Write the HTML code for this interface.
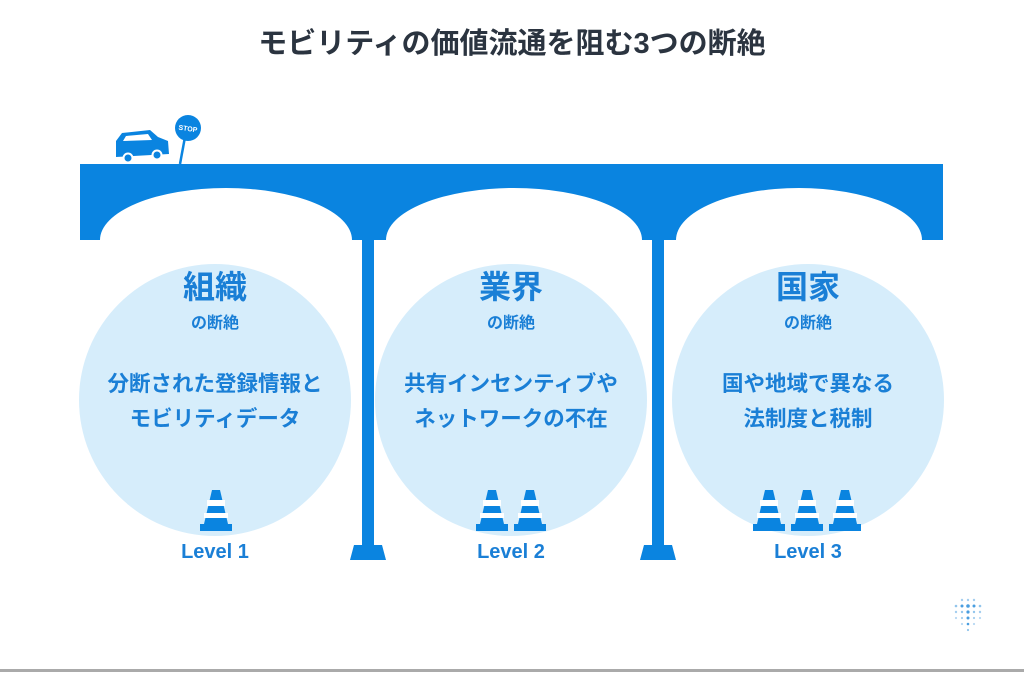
<!DOCTYPE html>
<html><head><meta charset="utf-8"><style>
body{margin:0;background:#fff;width:1024px;height:672px;overflow:hidden}
text{font-family:"Liberation Sans","Noto Sans CJK JP",sans-serif;font-weight:bold}
</style></head><body>
<svg width="1024" height="672" viewBox="0 0 1024 672" xmlns="http://www.w3.org/2000/svg">
<rect width="1024" height="672" fill="#fff"/>
<text x="512" y="53" font-size="29" fill="#2b3440" text-anchor="middle">モビリティの価値流通を阻む3つの断絶</text>
<g fill="#d6edfb">
<circle cx="215" cy="400" r="136"/>
<circle cx="511" cy="400" r="136"/>
<circle cx="808" cy="400" r="136"/>
</g>
<path fill="#0a84e0" fill-rule="evenodd" d="M80 164H943V240H80Z M100 240 A126 52 0 0 1 352 240Z M386 240 A128 52 0 0 1 642 240Z M676 240 A123 52 0 0 1 922 240Z"/>
<g fill="#0a84e0">
<rect x="362" y="238" width="12" height="310"/>
<path d="M354 545H382L386 560H350Z"/>
<rect x="652" y="238" width="12" height="310"/>
<path d="M644 545H672L676 560H640Z"/>
<path d="M116 141 L122 133 L150 130 L158 137 L168 141 L169 154 L116 157 Z"/>
<circle cx="128" cy="158" r="4.5" stroke="#fff" stroke-width="2"/>
<circle cx="157" cy="155" r="4.5" stroke="#fff" stroke-width="2"/>
<line x1="180" y1="164" x2="185" y2="137" stroke="#0a84e0" stroke-width="2.5"/>
<circle cx="188" cy="128" r="13"/>
</g>
<path d="M123 141 L126 136 L148 134 L152 140 Z" fill="#fff"/>
<text x="188" y="131" font-size="7" fill="#fff" text-anchor="middle" transform="rotate(8 188 128)">STOP</text>
<g fill="#1a7fd6" text-anchor="middle">
<text x="215" y="298" font-size="32">組織</text>
<text x="215" y="328" font-size="16">の断絶</text>
<text x="215" y="391" font-size="21.5">分断された登録情報と</text>
<text x="215" y="426" font-size="21.5">モビリティデータ</text>
<text x="215" y="558" font-size="20">Level 1</text>
<text x="511" y="298" font-size="32">業界</text>
<text x="511" y="328" font-size="16">の断絶</text>
<text x="511" y="391" font-size="21.5">共有インセンティブや</text>
<text x="511" y="426" font-size="21.5">ネットワークの不在</text>
<text x="511" y="558" font-size="20">Level 2</text>
<text x="808" y="298" font-size="32">国家</text>
<text x="808" y="328" font-size="16">の断絶</text>
<text x="808" y="391" font-size="21.5">国や地域で異なる</text>
<text x="808" y="426" font-size="21.5">法制度と税制</text>
<text x="808" y="558" font-size="20">Level 3</text>
</g>
<defs>
<g id="cone">
<path d="M-4 0H4L12 34H-12Z" fill="#0a84e0"/>
<rect x="-9" y="10" width="18" height="6" fill="#fff"/>
<rect x="-12" y="23" width="24" height="5" fill="#fff"/>
<rect x="-16" y="34" width="32" height="7" fill="#0a84e0"/>
</g>
</defs>
<use href="#cone" x="216" y="490"/>
<use href="#cone" x="492" y="490"/>
<use href="#cone" x="530" y="490"/>
<use href="#cone" x="769" y="490"/>
<use href="#cone" x="807" y="490"/>
<use href="#cone" x="845" y="490"/>
<g fill="#4a9ee0">
<circle cx="962" cy="600" r="1.2" opacity=".5"/><circle cx="968" cy="600" r="1.2" opacity=".5"/><circle cx="974" cy="600" r="1.2" opacity=".5"/>
<circle cx="956" cy="606" r="1.3" opacity=".6"/><circle cx="962" cy="606" r="1.5"/><circle cx="968" cy="606" r="1.8"/><circle cx="974" cy="606" r="1.5"/><circle cx="980" cy="606" r="1.3" opacity=".6"/>
<circle cx="956" cy="612" r="1.2" opacity=".5"/><circle cx="962" cy="612" r="1.2" opacity=".6"/><circle cx="968" cy="612" r="1.6"/><circle cx="974" cy="612" r="1.2" opacity=".6"/><circle cx="980" cy="612" r="1.2" opacity=".5"/>
<circle cx="956" cy="618" r="1.1" opacity=".4"/><circle cx="962" cy="618" r="1.1" opacity=".5"/><circle cx="968" cy="618" r="1.5"/><circle cx="974" cy="618" r="1.1" opacity=".5"/><circle cx="980" cy="618" r="1.1" opacity=".4"/>
<circle cx="962" cy="624" r="1.1" opacity=".4"/><circle cx="968" cy="624" r="1.3"/><circle cx="974" cy="624" r="1.1" opacity=".4"/>
<circle cx="968" cy="630" r="1.1" opacity=".6"/>
</g>
<rect x="0" y="669" width="1024" height="3" fill="#aaa"/>
</svg>
</body></html>
